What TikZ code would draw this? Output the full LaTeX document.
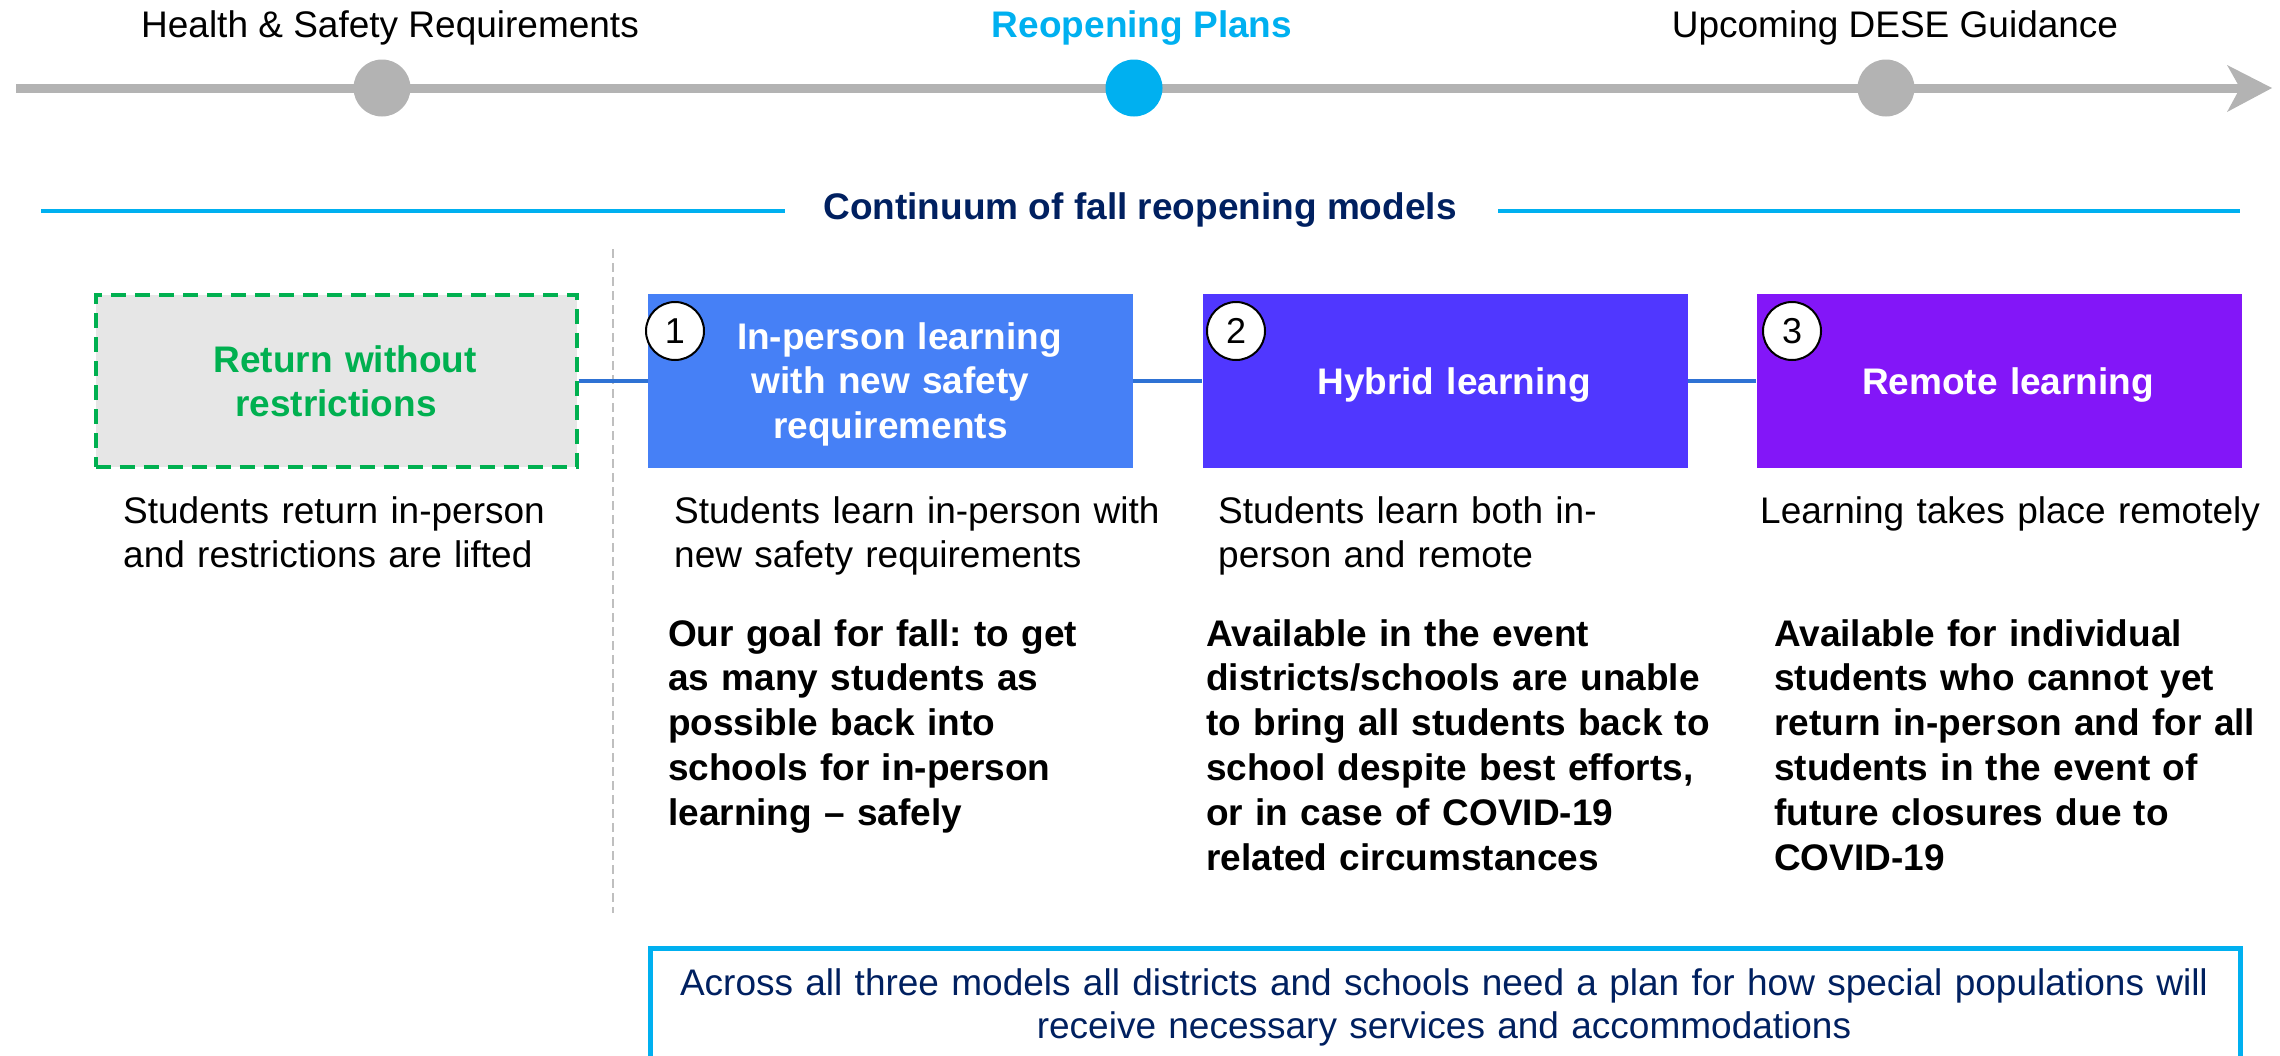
\documentclass[tikz,border=0pt]{standalone}
\usepackage{fontspec}
\setmainfont{Liberation Sans}
\frenchspacing
\usetikzlibrary{arrows.meta}
\definecolor{tlgray}{HTML}{B3B3B3}
\definecolor{skyc}{HTML}{00B0F0}
\definecolor{navy}{HTML}{002060}
\definecolor{grn}{HTML}{00B050}
\definecolor{lgray}{HTML}{E6E6E6}
\definecolor{bxone}{HTML}{4680F6}
\definecolor{bxtwo}{HTML}{5037FF}
\definecolor{bxthree}{HTML}{8316F8}
\definecolor{conblue}{HTML}{2E72D4}
\definecolor{sepgray}{HTML}{BFBFBF}
\tikzset{
  tlcirc/.style={circle, fill=tlgray, minimum size=57pt, inner sep=0pt},
  toplabel/.style={anchor=base, inner sep=0pt, font=\fontsize{37}{44.5}\selectfont},
  modelbox/.style={rectangle, minimum width=485pt, minimum height=174pt, inner sep=0pt},
  boxtext/.style={anchor=base, inner sep=0pt, text width=480pt, align=center, text=white,
     font=\fontsize{37}{44.5}\selectfont\bfseries},
  numcirc/.style={circle, fill=white, draw=black, line width=2pt, minimum size=58pt, inner sep=0pt,
     font=\fontsize{36}{40}\selectfont},
  desctext/.style={anchor=base west, inner sep=0pt, text width=600pt, align=left,
     font=\fontsize{37}{44}\selectfont},
  goaltext/.style={anchor=base west, inner sep=0pt, text width=600pt, align=left,
     font=\fontsize{37}{44.8}\selectfont\bfseries},
  conn/.style={conblue, line width=4pt},
}
\begin{document}
\begin{tikzpicture}[x=1pt,y=-1pt]
\useasboundingbox (0,0) rectangle (2280,1055);
\clip (0,0) rectangle (2280,1055);

% timeline
\coordinate (tlstart) at (16,88);
\coordinate (tlend) at (2241,88);
\draw[tlgray, line width=9pt] (tlstart) -- (tlend);
\fill[tlgray] (2272,88) -- (2227,65) -- (2240,88) -- (2227,112) -- cycle;
\node[tlcirc] (c1) at (382,88) {};
\node[tlcirc, fill=skyc] (c2) at (1134,88) {};
\node[tlcirc] (c3) at (1886,88) {};
\node[toplabel] (l1) at (390,37.5) {Health \& Safety Requirements};
\node[toplabel, text=skyc, font=\fontsize{37}{44.5}\selectfont\bfseries] (l2) at (1142,37.5) {Reopening Plans};
\node[toplabel] (l3) at (1895,37.5) {Upcoming DESE Guidance};

% continuum header
\node[anchor=base, inner sep=0pt, text=navy, font=\fontsize{37}{42}\selectfont\bfseries] (title) at (1140,219) {Continuum of fall reopening models};
\coordinate (hl1) at (41,211);
\coordinate (hl2) at (785,211);
\coordinate (hr1) at (1498,211);
\coordinate (hr2) at (2240,211);
\draw[skyc, line width=4.5pt] (hl1) -- (hl2);
\draw[skyc, line width=4.5pt] (hr1) -- (hr2);

% separator
\coordinate (sep1) at (613,249);
\coordinate (sep2) at (613,913);
\draw[sepgray, line width=2pt, dash pattern=on 9pt off 5pt] (sep1) -- (sep2);

% boxes
\node[modelbox, fill=lgray, draw=grn, line width=4pt, dash pattern=on 15pt off 9pt, minimum width=481pt, minimum height=172pt] (ret) at (336,381) {};
\node[modelbox, fill=bxone] (m1) at (890.5,381) {};
\node[modelbox, fill=bxtwo] (m2) at (1445,381) {};
\node[modelbox, fill=bxthree] (m3) at (1999,381) {};

\draw[conn] (ret.east) -- (m1.west);
\draw[conn] (m1.east) -- (m2.west);
\draw[conn] (m2.east) -- (m3.west);

\node[boxtext, text=grn] (rett) at (336,372) {\hspace*{18pt}Return without\\restrictions};
\node[boxtext] (m1t) at (890.5,349) {\hspace*{18pt}In-person learning\\with new safety\\requirements};
\node[boxtext] (m2t) at (1445,394) {\hspace*{18pt}Hybrid learning};
\node[boxtext] (m3t) at (1999,394) {\hspace*{18pt}Remote learning};

\node[numcirc] (n1) at (675,331) {1};
\node[numcirc] (n2) at (1236,331) {2};
\node[numcirc] (n3) at (1792,331) {3};

% descriptions
\node[desctext] (d0) at (123,523) {Students return in-person\\and restrictions are lifted};
\node[desctext] (d1) at (674,523) {Students learn in-person with\\new safety requirements};
\node[desctext] (d2) at (1218,523) {Students learn both in-\\person and remote};
\node[desctext] (d3) at (1760,523) {Learning takes place remotely};

\node[goaltext] (g1) at (668,646) {Our goal for fall: to get\\as many students as\\possible back into\\schools for in-person\\learning – safely};
\node[goaltext] (g2) at (1206,646) {Available in the event\\districts/schools are unable\\to bring all students back to\\school despite best efforts,\\or in case of COVID-19\\related circumstances};
\node[goaltext] (g3) at (1774,646) {Available for individual\\students who cannot yet\\return in-person and for all\\students in the event of\\future closures due to\\COVID-19};

% bottom box
\node[rectangle, draw=skyc, fill=white, line width=5pt, minimum width=1590pt, minimum height=200pt, inner sep=0pt] (bot) at (1445.5,1048.5) {};
\node[anchor=base, inner sep=0pt, text width=1580pt, align=center, text=navy, font=\fontsize{37}{43}\selectfont] (bott) at (1444,995) {Across all three models all districts and schools need a plan for how special populations will\\receive necessary services and accommodations};
\end{tikzpicture}
\end{document}
